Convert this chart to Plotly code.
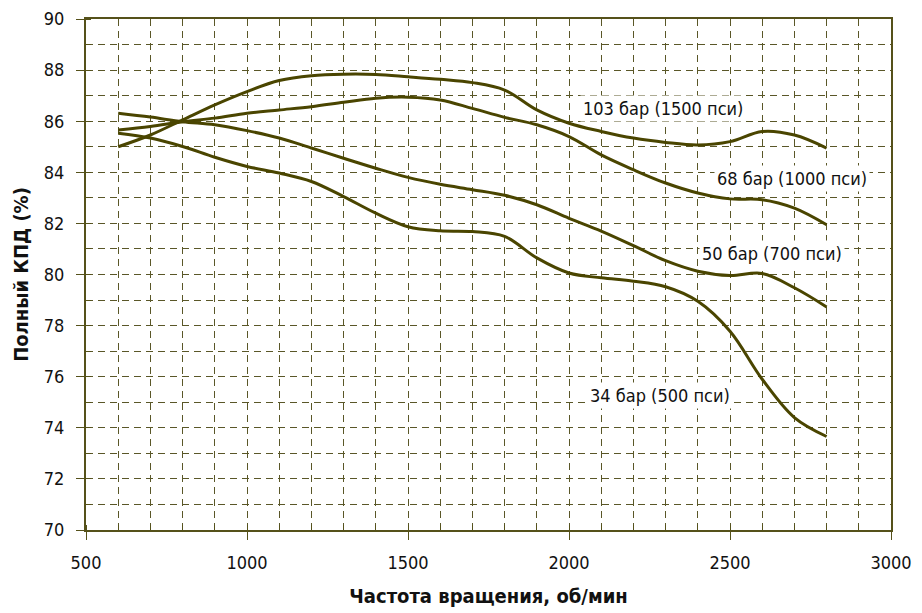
import plotly.graph_objects as go

rpm = [600, 700, 800, 900, 1000, 1100, 1200, 1300, 1400, 1500, 1600, 1700,
       1800, 1900, 2000, 2100, 2200, 2300, 2400, 2500, 2600, 2700, 2800]

eff_103bar = [85.0, 85.46, 86.05, 86.64, 87.16, 87.59, 87.78, 87.84, 87.83, 87.74, 87.64, 87.51,
              87.22, 86.44, 85.92, 85.6, 85.34, 85.17, 85.07, 85.2, 85.6, 85.46, 84.95]
eff_68bar = [85.66, 85.79, 85.98, 86.12, 86.31, 86.44, 86.57, 86.74, 86.9, 86.94, 86.83, 86.5,
             86.15, 85.86, 85.4, 84.68, 84.1, 83.58, 83.19, 82.96, 82.93, 82.6, 81.95]
eff_50bar = [86.31, 86.16, 85.98, 85.86, 85.63, 85.34, 84.95, 84.55, 84.16, 83.8, 83.53, 83.32,
             83.1, 82.73, 82.2, 81.7, 81.13, 80.54, 80.13, 79.96, 80.04, 79.48, 78.73]
eff_34bar = [85.53, 85.34, 85.01, 84.59, 84.23, 83.97, 83.64, 83.05, 82.4, 81.87, 81.71, 81.68,
             81.49, 80.65, 80.06, 79.87, 79.74, 79.52, 78.95, 77.78, 75.9, 74.4, 73.66]

series_names = ["103 бар (1500 пси)", "68 бар (1000 пси)", "50 бар (700 пси)", "34 бар (500 пси)"]
series_values = [eff_103bar, eff_68bar, eff_50bar, eff_34bar]
label_x = [2292, 2693, 2630, 2283]
label_y = [86.48, 83.75, 80.82, 75.27]

x_title = "Частота вращения, об/мин"
y_title = "Полный КПД (%)"

FONT = "DejaVu Sans Condensed, Liberation Sans Narrow, sans-serif"
LINE = "#4a4500"
GRID = "#5a5728"
AXIS = "#55511a"

fig = go.Figure()
for name, vals in zip(series_names, series_values):
    fig.add_trace(go.Scatter(x=rpm, y=vals, mode="lines", name=name,
                             line=dict(color=LINE, width=3, shape="spline", smoothing=1.0)))

for name, lx, ly in zip(series_names, label_x, label_y):
    fig.add_annotation(x=lx, y=ly, text=name, showarrow=False, bgcolor="white",
                       font=dict(family=FONT, size=18, color="#111111"), borderpad=2)

axis_common = dict(
    showline=True, linecolor=AXIS, linewidth=2, mirror=True,
    showgrid=True, gridcolor=GRID, gridwidth=1, griddash="7px,5px",
    ticks="outside", ticklen=8, tickcolor=AXIS, tickwidth=1,
    tickfont=dict(family=FONT, size=18, color="#111111"),
    zeroline=False,
)

fig.update_xaxes(range=[500, 3000], dtick=500, tick0=500,
                 minor=dict(dtick=100, showgrid=True, gridcolor=GRID, griddash="7px,5px",
                            gridwidth=1, ticks="inside", ticklen=5, tickcolor=AXIS),
                 title=dict(text=x_title, font=dict(family=FONT, size=20, color="#111111", weight="bold"),
                            standoff=17),
                 ticklabelstandoff=7,
                 **axis_common)
fig.update_yaxes(range=[70, 90], dtick=2, tick0=70,
                 minor=dict(dtick=1, showgrid=True, gridcolor=GRID, griddash="7px,5px",
                            gridwidth=1, ticks="inside", ticklen=5, tickcolor=AXIS),
                 title=dict(text=y_title, font=dict(family=FONT, size=20, color="#111111", weight="bold"),
                            standoff=10),
                 ticklabelstandoff=8,
                 **axis_common)

fig.update_layout(
    width=922, height=613,
    margin=dict(l=86, r=31, t=19, b=83, autoexpand=False),
    plot_bgcolor="white", paper_bgcolor="white",
    showlegend=False,
)

fig.write_html("out.html")
